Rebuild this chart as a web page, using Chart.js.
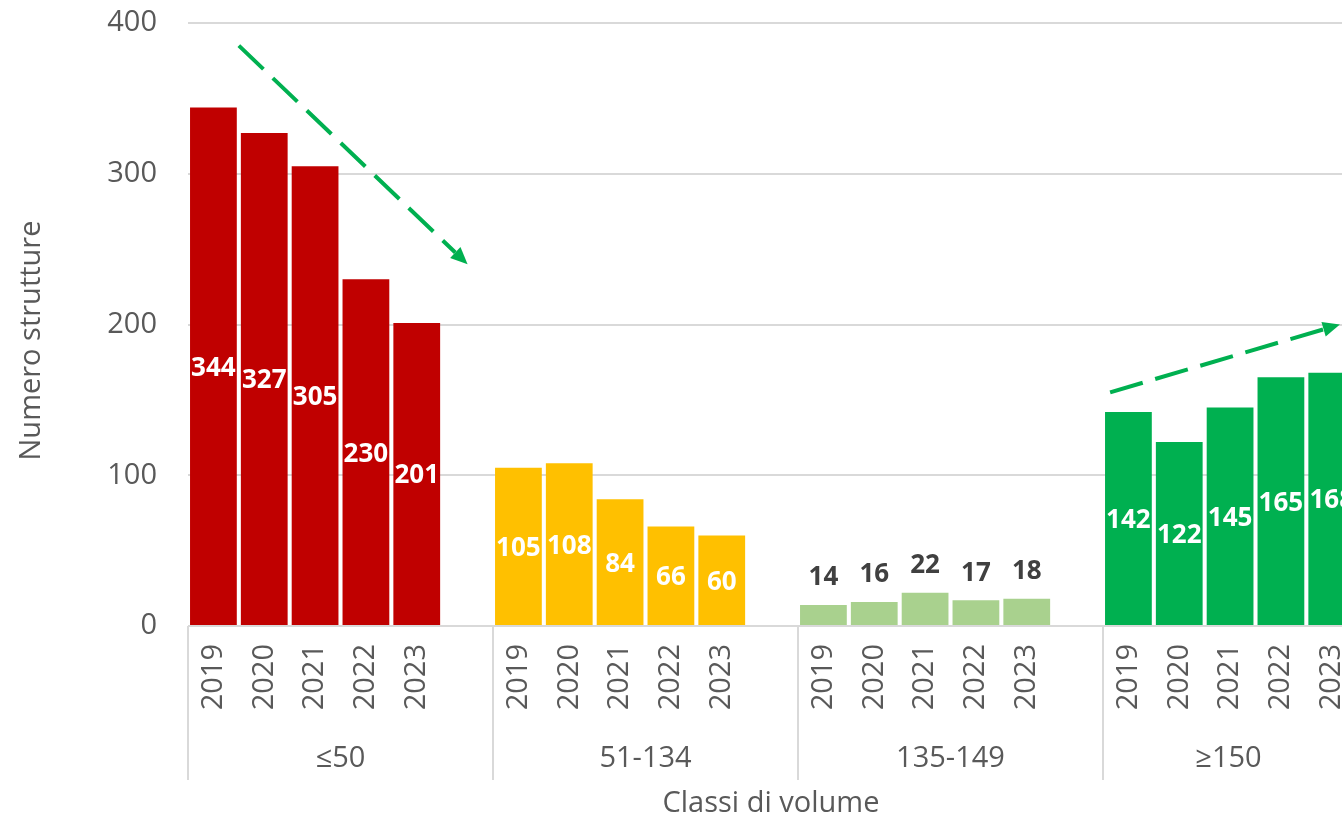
<!DOCTYPE html>
<html>
<head>
<meta charset="utf-8">
<script src="https://cdn.jsdelivr.net/npm/chart.js@4/dist/chart.umd.min.js"></script>
<style>
  html, body { margin: 0; padding: 0; overflow: hidden; background: #ffffff; }
  canvas { display: block; }
</style>
</head>
<body>
<canvas id="c" width="1420" height="818"></canvas>
<script>
// ---- data ----
const years = ['2019', '2020', '2021', '2022', '2023'];
const groups = ['≤50', '51-134', '135-149', '≥150'];
const valuesLe50 = [344, 327, 305, 230, 201];
const values51to134 = [105, 108, 84, 66, 60];
const values135to149 = [14, 16, 22, 17, 18];
const valuesGe150 = [142, 122, 145, 165, 168];
const yTickValues = [0, 100, 200, 300, 400];
const yTitle = 'Numero strutture';
const xTitle = 'Classi di volume';
// trend arrows: [startIndex, startValue, endIndex, endValue]
const trendDown = [0.5, 385, 5, 240];
const trendUp = [17.64, 155, 22.16, 200];

// ---- styles ----
const groupColors = ['#c00000', '#ffc000', '#a9d18e', '#00b050'];
const labelOutside = [false, false, true, false];
const textColor = '#595959';
const gridColor = '#d9d9d9';
const arrowColor = '#00b050';
const FONT = "'Open Sans', sans-serif";
const VISIBLE_RIGHT = 1354;

const groupValues = [valuesLe50, values51to134, values135to149, valuesGe150];
const slotsPerGroup = years.length + 1;
const labels = [], data = [], colors = [], groupOf = [];
groupValues.forEach((vals, g) => {
  years.forEach((y, i) => { labels.push(y); data.push(vals[i]); colors.push(groupColors[g]); groupOf.push(g); });
  labels.push(''); data.push(null); colors.push('rgba(0,0,0,0)'); groupOf.push(g);
});

function drawArrow(ctx, x1, y1, x2, y2) {
  const ang = Math.atan2(y2 - y1, x2 - x1);
  const head = 17, hw = 7.5;
  const bx = x2 - head * Math.cos(ang), by = y2 - head * Math.sin(ang);
  ctx.save();
  ctx.strokeStyle = arrowColor;
  ctx.fillStyle = arrowColor;
  ctx.lineWidth = 4;
  ctx.setLineDash([34, 13]);
  ctx.beginPath(); ctx.moveTo(x1, y1); ctx.lineTo(bx, by); ctx.stroke();
  ctx.setLineDash([]);
  ctx.beginPath();
  ctx.moveTo(x2, y2);
  ctx.lineTo(bx + hw * Math.sin(ang), by - hw * Math.cos(ang));
  ctx.lineTo(bx - hw * Math.sin(ang), by + hw * Math.cos(ang));
  ctx.closePath(); ctx.fill();
  ctx.restore();
}

const extras = {
  id: 'extras',
  afterDraw(chart) {
    const ctx = chart.ctx;
    const xs = chart.scales.x, ys = chart.scales.y;
    const area = chart.chartArea;
    const slot = (xs.getPixelForValue(1) - xs.getPixelForValue(0));
    // data labels
    const meta = chart.getDatasetMeta(0);
    ctx.save();
    ctx.textAlign = 'center';
    ctx.textBaseline = 'middle';
    ctx.font = "bold 26px " + FONT;
    meta.data.forEach((bar, i) => {
      const v = data[i];
      if (v === null) return;
      const g = groupOf[i];
      if (labelOutside[g]) {
        ctx.fillStyle = '#404040';
        ctx.fillText(String(v), bar.x, bar.y - 27);
      } else {
        ctx.fillStyle = '#ffffff';
        ctx.fillText(String(v), bar.x, (bar.y + bar.base) / 2 + 2);
      }
    });
    ctx.restore();

    // group separators and group labels
    ctx.save();
    ctx.strokeStyle = gridColor;
    ctx.lineWidth = 2;
    ctx.fillStyle = textColor;
    ctx.font = "29px " + FONT;
    ctx.textAlign = 'center';
    ctx.textBaseline = 'middle';
    groups.forEach((name, g) => {
      const x0 = xs.getPixelForValue(g * slotsPerGroup) - slot / 2;
      const x1 = Math.min(xs.getPixelForValue(g * slotsPerGroup + slotsPerGroup - 1) + slot / 2, VISIBLE_RIGHT);
      ctx.beginPath(); ctx.moveTo(Math.round(x0), area.bottom); ctx.lineTo(Math.round(x0), area.bottom + 154); ctx.stroke();
      ctx.fillText(name, (x0 + x1) / 2, area.bottom + 133);
    });
    // axis titles
    ctx.font = "29px " + FONT;
    ctx.fillText(xTitle, (area.left + VISIBLE_RIGHT) / 2, area.bottom + 178);
    ctx.translate(32, (area.top + area.bottom) / 2 + 16);
    ctx.rotate(-Math.PI / 2);
    ctx.fillText(yTitle, 0, 0);
    ctx.restore();

    // trend arrows
    [trendDown, trendUp].forEach(t => {
      const xa = xs.getPixelForValue(0) + t[0] * slot;
      const xb = xs.getPixelForValue(0) + t[2] * slot;
      drawArrow(ctx, xa, ys.getPixelForValue(t[1]), xb, ys.getPixelForValue(t[3]));
    });
  }
};

Chart.defaults.font.family = FONT;
new Chart(document.getElementById('c'), {
  type: 'bar',
  data: {
    labels: labels,
    datasets: [{
      data: data,
      backgroundColor: colors,
      borderWidth: 0,
      barPercentage: 0.92,
      categoryPercentage: 1.0
    }]
  },
  options: {
    responsive: false,
    animation: false,
    devicePixelRatio: 1,
    layout: { padding: { top: 23, left: 0, right: 12, bottom: 0 } },
    plugins: { legend: { display: false }, tooltip: { enabled: false }, title: { display: false } },
    scales: {
      y: {
        min: 0, max: 400,
        afterBuildTicks: s => { s.ticks = yTickValues.map(v => ({ value: v })); },
        afterFit: s => { s.width = 188; s.paddingTop = 0; s.paddingBottom = 0; },
        ticks: { font: { size: 29 }, color: textColor, padding: 31 },
        grid: { color: gridColor, lineWidth: 2, drawTicks: false },
        border: { display: false }
      },
      x: {
        afterFit: s => { s.height = 192; s.paddingLeft = 0; s.paddingRight = 0; },
        ticks: { font: { size: 29 }, color: textColor, minRotation: 90, maxRotation: 90, padding: 18, autoSkip: false },
        grid: { display: false, drawTicks: false },
        border: { display: false }
      }
    }
  },
  plugins: [extras]
});
</script>
</body>
</html>
